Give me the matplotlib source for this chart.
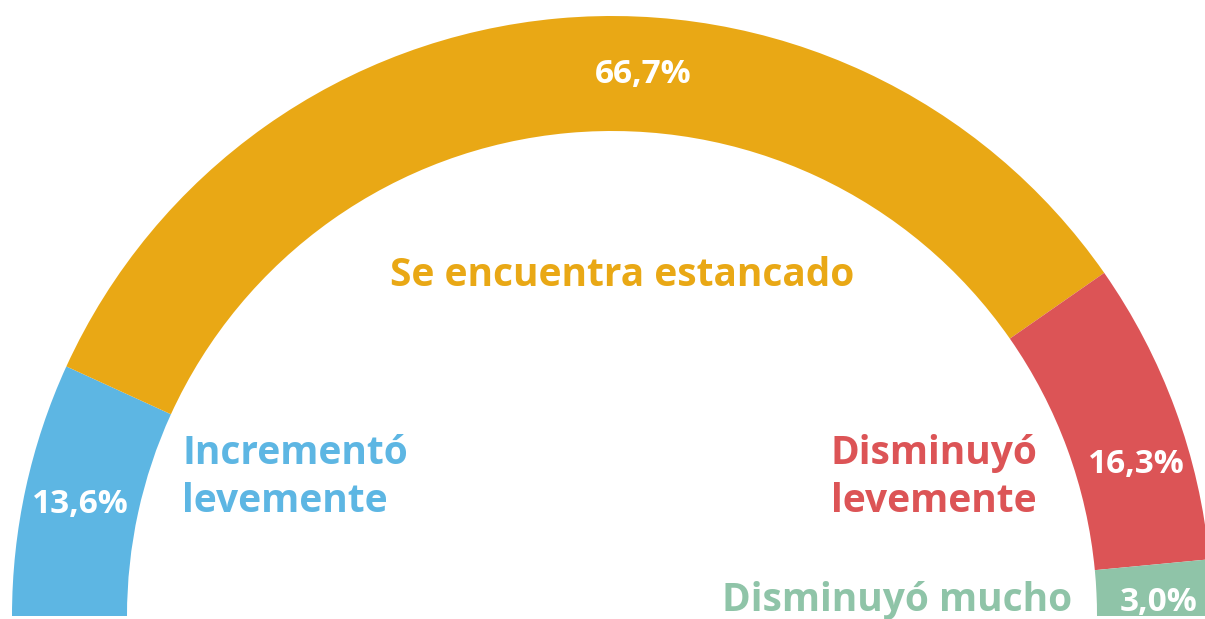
import numpy as np
import matplotlib.pyplot as plt

categorias = ["Incrementó\nlevemente", "Se encuentra estancado", "Disminuyó\nlevemente", "Disminuyó mucho"]
porcentajes = [13.6, 66.7, 16.3, 3.0]
etiquetas = ["13,6%", "66,7%", "16,3%", "3,0%"]
colores = ["#5DB6E3", "#E9A815", "#DC5456", "#8FC4A8"]

W, H = 1205, 619
plt.rcParams["font.family"] = ["Open Sans", "DejaVu Sans"]

fig = plt.figure(figsize=(W / 100, H / 100), dpi=100)
ax = fig.add_axes([0, 0, 1, 1])

# half donut: the values fill 180 degrees
cx, cy = 612, H - 616
r_out, ancho = 600, 115
fr = np.array(porcentajes) / (2 * sum(porcentajes))
ax.pie(fr, normalize=False, startangle=180, counterclock=False,
       radius=r_out, center=(cx, cy), colors=colores,
       wedgeprops=dict(width=ancho, linewidth=0))

# percentage labels (pixel positions, y from top, baseline)
pos_pct = [(80, 513), (643, 83), (1136, 473), (1159, 611)]
for (x, y), t in zip(pos_pct, etiquetas):
    ax.text(x, H - y, t, color="white", fontsize=24, fontweight="bold",
            ha="center", va="baseline")

# category labels
pos_cat = [(182, 464, "left"), (622, 286, "center"), (1037, 464, "right"), (1072, 611, "right")]
for (x, y, ha), t, c in zip(pos_cat, categorias, colores):
    for i, linea in enumerate(t.split("\n")):
        ax.text(x, H - y - i * 48, linea, color=c, fontsize=28, fontweight="bold",
                ha=ha, va="baseline")

ax.set_xlim(0, W)
ax.set_ylim(0, H)
ax.set_aspect("equal")
ax.axis("off")

fig.savefig("out.png", dpi=100)
